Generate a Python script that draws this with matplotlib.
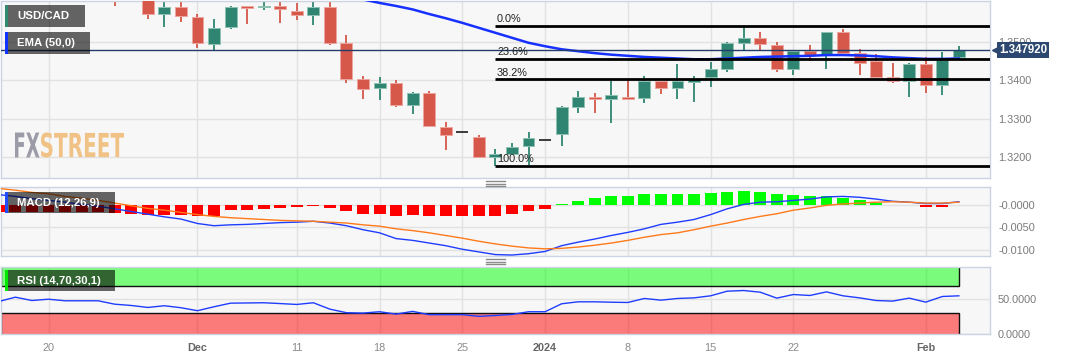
import numpy as np
import pandas as pd
import matplotlib
matplotlib.use('Agg')
import matplotlib.pyplot as plt
import matplotlib.transforms as mtransforms
from matplotlib.patches import Rectangle, PathPatch
from matplotlib.lines import Line2D
from matplotlib.textpath import TextPath
from matplotlib.font_manager import FontProperties

plt.rcParams['font.family'] = ['Liberation Sans', 'DejaVu Sans']

# daily USD/CAD, 15 Nov 2023 .. 5 Feb 2024 (weekdays)
dates = pd.bdate_range('2023-11-15', '2024-02-05')

opens = [1.3710, 1.3728, 1.3715, 1.3712, 1.3718, 1.3710, 1.3676, 1.3662, 1.3628, 1.3640,
         1.3573, 1.3592, 1.3566, 1.3495, 1.3538, 1.3593, 1.3591, 1.3594, 1.3581, 1.3570,
         1.3591, 1.3497, 1.3403, 1.3379, 1.3392, 1.3335, 1.3366, 1.3279, 1.3264, 1.3253,
         1.3201, 1.3208, 1.3229, 1.3244, 1.3259, 1.3330, 1.3356, 1.3352, 1.3357, 1.3353,
         1.3398, 1.3379, 1.3396, 1.3410, 1.3430, 1.3497, 1.3510, 1.3492, 1.3429, 1.3477,
         1.3468, 1.3525, 1.3472, 1.3450, 1.3408, 1.3398, 1.3442, 1.3389, 1.3462]
highs = [1.3745, 1.3755, 1.3730, 1.3728, 1.3740, 1.3720, 1.3690, 1.3670, 1.3660, 1.3650,
         1.3615, 1.3612, 1.3572, 1.3559, 1.3595, 1.3594, 1.3612, 1.3612, 1.3603, 1.3612,
         1.3607, 1.3518, 1.3411, 1.3408, 1.3401, 1.3370, 1.3373, 1.3292, 1.3264, 1.3257,
         1.3220, 1.3236, 1.3264, 1.3244, 1.3333, 1.3372, 1.3366, 1.3398, 1.3403, 1.3412,
         1.3398, 1.3442, 1.3411, 1.3447, 1.3499, 1.3540, 1.3525, 1.3501, 1.3478, 1.3492,
         1.3525, 1.3533, 1.3481, 1.3470, 1.3444, 1.3444, 1.3462, 1.3475, 1.3490]
lows = [1.3700, 1.3705, 1.3700, 1.3690, 1.3700, 1.3670, 1.3655, 1.3594, 1.3615, 1.3560,
        1.3540, 1.3552, 1.3485, 1.3479, 1.3533, 1.3547, 1.3583, 1.3549, 1.3557, 1.3544,
        1.3492, 1.3392, 1.3351, 1.3349, 1.3331, 1.3311, 1.3280, 1.3218, 1.3264, 1.3201,
        1.3177, 1.3206, 1.3179, 1.3244, 1.3229, 1.3316, 1.3316, 1.3288, 1.3352, 1.3340,
        1.3364, 1.3351, 1.3344, 1.3382, 1.3423, 1.3479, 1.3479, 1.3423, 1.3413, 1.3451,
        1.3429, 1.3472, 1.3413, 1.3410, 1.3394, 1.3357, 1.3366, 1.3362, 1.3462]
closes = [1.3728, 1.3715, 1.3712, 1.3718, 1.3710, 1.3676, 1.3662, 1.3628, 1.3640, 1.3573,
          1.3592, 1.3568, 1.3497, 1.3537, 1.3591, 1.3590, 1.3594, 1.3586, 1.3570, 1.3591,
          1.3497, 1.3403, 1.3377, 1.3392, 1.3335, 1.3366, 1.3281, 1.3258, 1.3264, 1.3201,
          1.3207, 1.3227, 1.3249, 1.3244, 1.3330, 1.3356, 1.3352, 1.3363, 1.3352, 1.3398,
          1.3379, 1.3397, 1.3404, 1.3430, 1.3497, 1.3510, 1.3494, 1.3430, 1.3477, 1.3466,
          1.3525, 1.3472, 1.3444, 1.3410, 1.3398, 1.3442, 1.3389, 1.3453, 1.34792]
ema50 = [1.3720, 1.3718, 1.3716, 1.3713, 1.3710, 1.3706, 1.3702, 1.3698, 1.3694, 1.3689,
         1.3684, 1.3678, 1.3671, 1.3665, 1.3660, 1.3655, 1.3650, 1.3646, 1.3642, 1.3636,
         1.3628, 1.3620, 1.3611, 1.3602, 1.3594, 1.3585, 1.3573, 1.3562, 1.3550, 1.3537,
         1.3524, 1.3511, 1.3498, 1.3489, 1.3481, 1.3476, 1.3471, 1.3467, 1.3464, 1.3461,
         1.3459, 1.3457, 1.3455, 1.3455, 1.3457, 1.3459, 1.3461, 1.3462, 1.3463, 1.3464,
         1.3466, 1.3466, 1.3465, 1.3463, 1.3460, 1.3458, 1.3456, 1.3456, 1.3457]

macd_line = [0.0024, 0.0020, 0.0015, 0.0011, 0.0007, 0.0002, -0.0002, -0.0008, -0.0014, -0.0020,
             -0.0026, -0.0031, -0.0041, -0.0046, -0.0044, -0.0043, -0.0041, -0.0039, -0.0038, -0.0036,
             -0.0040, -0.0046, -0.0055, -0.0062, -0.0075, -0.0079, -0.0085, -0.0091, -0.0099, -0.0105,
             -0.0111, -0.0112, -0.0109, -0.0104, -0.0091, -0.0083, -0.0076, -0.0068, -0.0061, -0.0053,
             -0.0043, -0.0038, -0.0032, -0.0021, -0.0008, 0.0002, 0.0007, 0.0008, 0.0011, 0.0014,
             0.0019, 0.0020, 0.0018, 0.0014, 0.0009, 0.0007, 0.0004, 0.0004, 0.0008]
signal_line = [0.0038, 0.0034, 0.0029, 0.0026, 0.0020, 0.0016, 0.0011, 0.0005, -0.0001, -0.0007,
               -0.0011, -0.0016, -0.0021, -0.0025, -0.0028, -0.0030, -0.0032, -0.0034, -0.0035, -0.0036,
               -0.0038, -0.0040, -0.0044, -0.0047, -0.0053, -0.0057, -0.0062, -0.0068, -0.0074, -0.0081,
               -0.0087, -0.0092, -0.0096, -0.0098, -0.0097, -0.0094, -0.0090, -0.0085, -0.0079, -0.0072,
               -0.0066, -0.0062, -0.0055, -0.0047, -0.0040, -0.0032, -0.0025, -0.0019, -0.0011, -0.0006,
               0.0000, 0.0003, 0.0005, 0.0007, 0.0008, 0.0007, 0.0005, 0.0005, 0.0007]
macd_hist = [-0.0016, -0.0015, -0.0015, -0.0015, -0.0014, -0.0014, -0.0014, -0.0017, -0.0019, -0.0021,
             -0.0021, -0.0021, -0.0025, -0.0023, -0.0011, -0.0010, -0.0008, -0.0006, -0.0003, -0.0002,
             -0.0005, -0.0013, -0.0019, -0.0020, -0.0023, -0.0022, -0.0025, -0.0025, -0.0025, -0.0025,
             -0.0023, -0.0019, -0.0013, -0.0008, 0.0002, 0.0010, 0.0016, 0.0020, 0.0021, 0.0025,
             0.0025, 0.0026, 0.0026, 0.0027, 0.0030, 0.0033, 0.0031, 0.0025, 0.0023, 0.0020,
             0.0021, 0.0017, 0.0011, 0.0005, 0.0001, 0.0001, -0.0004, -0.0003, 0.0001]
rsi14 = [47.1, 53.4, 48.5, 50.4, 48.1, 48.1, 48.1, 43.1, 41.2, 38.3,
         40.8, 37.9, 33.5, 39.3, 44.6, 44.9, 45.2, 44.0, 42.7, 45.2,
         35.8, 30.6, 30.0, 32.0, 28.5, 32.5, 27.7, 27.7, 27.7, 25.2,
         26.5, 28.0, 32.0, 32.0, 43.7, 46.6, 46.6, 46.0, 45.6, 51.5,
         49.0, 51.5, 52.4, 55.4, 62.2, 63.2, 60.7, 52.0, 57.3, 55.9,
         61.2, 55.4, 52.4, 48.5, 47.6, 52.0, 46.1, 54.4, 55.4]
rsi_low, rsi_high = 30, 70

fib_high = 1.3542
fib_low = 1.3177
fib_ratios = [0.0, 0.236, 0.382, 1.0]
fib_labels = ['0.0%', '23.6%', '38.2%', '100.0%']
fib_start = '2023-12-27'

tick_dates = ['2023-11-20', '2023-12-01', '2023-12-11', '2023-12-18', '2023-12-25',
              '2024-01-01', '2024-01-08', '2024-01-15', '2024-01-22', '2024-02-01']
tick_labels = ['20', 'Dec', '11', '18', '25', '2024', '8', '15', '22', 'Feb']
bold_ticks = ['Dec', '2024', 'Feb']

opens = np.array(opens); highs = np.array(highs); lows = np.array(lows); closes = np.array(closes)
macd_hist = np.array(macd_hist)
x = np.arange(len(dates))
tick_pos = [dates.get_loc(pd.Timestamp(d)) for d in tick_dates]
xlim = (0.1, 59.88)

W, H = 1067, 360
fig = plt.figure(figsize=(W / 100, H / 100), dpi=100, facecolor='white')
px = mtransforms.Affine2D().scale(1 / W, -1 / H).translate(0, 1) + fig.transFigure


def rect(x0, y0, x1, y1):
    return [x0 / W, 1 - y1 / H, (x1 - x0) / W, (y1 - y0) / H]


ax = fig.add_axes(rect(0.5, 0.5, 990, 178))
ax_m = fig.add_axes(rect(0.5, 187, 990, 256))
ax_r = fig.add_axes(rect(0.5, 266.5, 990, 333.5))

for a in (ax, ax_m, ax_r):
    a.set_facecolor('#f7f7f7')
    for s in a.spines.values():
        s.set_color('#ccd3e3')
        s.set_linewidth(1)
    a.set_xlim(*xlim)
    a.set_xticks(tick_pos)
    a.grid(True, color='#e2e2e2', lw=1)
    a.set_axisbelow(True)
    a.yaxis.tick_right()
    a.tick_params(length=0, labelsize=7.8, labelcolor='#7a7a7a', pad=5.8)
    a.tick_params(axis='x', labelbottom=False)

# ---- price panel
up_col, dn_col = '#2f8571', '#d5584b'
up = closes > opens
dn = closes < opens
flat = closes == opens
cols = np.where(up, up_col, dn_col)
edges = np.where(up, '#8fc2b4', '#eda69e')
ax.vlines(x[~flat], lows[~flat], highs[~flat], colors=cols[~flat], lw=1.3, zorder=2)
ax.bar(x[~flat], np.abs(closes - opens)[~flat], bottom=np.minimum(opens, closes)[~flat],
       width=0.72, color=cols[~flat], edgecolor=edges[~flat], lw=0.7, zorder=3)
ax.hlines(closes[flat], x[flat] - 0.36, x[flat] + 0.36, color='#1a1a1a', lw=1.2, zorder=3)

ax.plot(x, ema50, color='#1530ff', lw=1.8, zorder=4)

last_close = closes[-1]
ax.axhline(last_close, color='#223d6a', lw=1, zorder=4)

fx0 = dates.get_loc(pd.Timestamp(fib_start))
for r, lab in zip(fib_ratios, fib_labels):
    lvl = fib_high - r * (fib_high - fib_low)
    ax.hlines(lvl, fx0, xlim[1], color='black', lw=2, zorder=5)
    ax.text(fx0 + 0.1, lvl + 0.0004, lab, fontsize=7.8, color='#222222', va='bottom', ha='left', zorder=5)

ax.set_ylim(1.31452, 1.36083)
ax.set_yticks([1.32, 1.33, 1.34, 1.35])
ax.set_yticklabels(['%.4f' % v for v in [1.32, 1.33, 1.34, 1.35]])

trans = mtransforms.blended_transform_factory(ax.transAxes, ax.transData)
box_col = '#2c4870'
ax.plot([1.0074], [last_close], marker='<', ms=7, color=box_col, transform=trans, clip_on=False, zorder=6)
ax.text(1.0089, last_close, '%.6f' % last_close, transform=trans, color='white', fontweight='bold',
        fontsize=8.3, va='center', ha='left', clip_on=False, zorder=7,
        bbox=dict(boxstyle='square,pad=0.2', fc=box_col, ec='none'))

# ---- MACD panel
ax_m.bar(x, macd_hist, width=0.72, color=np.where(macd_hist >= 0, '#00ff00', '#ff0000'), zorder=3)
ax_m.plot(x, macd_line, color='#1f3dff', lw=1, zorder=4)
ax_m.plot(x, signal_line, color='#ff7a1a', lw=1, zorder=4)
ax_m.set_ylim(-0.01142, 0.00412)
ax_m.set_yticks([0, -0.005, -0.01])
ax_m.set_yticklabels(['-0.0000', '-0.0050', '-0.0100'])

# ---- RSI panel
zone_w = x[-1] - xlim[0]
ax_r.add_patch(Rectangle((xlim[0], rsi_high), zone_w, 50, fc=(0, 1, 0, 0.5), ec='#111111', lw=1, zorder=2))
ax_r.add_patch(Rectangle((xlim[0], -20), zone_w, rsi_low + 20, fc=(1, 0, 0, 0.5), ec='#111111', lw=1, zorder=2))
ax_r.plot(x, rsi14, color='#1f3dff', lw=1, zorder=4)
ax_r.set_ylim(0, 98.5)
ax_r.set_yticks([0, 50])
ax_r.set_yticklabels(['0.0000', '50.0000'])
ax_r.tick_params(axis='x', labelbottom=True, pad=6.8)
ax_r.set_xticklabels(tick_labels)
for t in ax_r.get_xticklabels():
    if t.get_text() in bold_ticks:
        t.set_fontweight('bold')
        t.set_color('#666666')
    else:
        t.set_color('#8a8a8a')


# ---- overlays
def label_box(x0, y0, x1, y1, color, text):
    fig.add_artist(Rectangle((x0, y0), x1 - x0, y1 - y0, transform=px, fc='black', alpha=0.6, ec='none', zorder=10))
    fig.add_artist(Rectangle((x0, y0), 3, y1 - y0, transform=px, fc=color, ec='none', zorder=11))
    fig.text((x0 + 12) / W, 1 - (y0 + y1) / 2 / H, text, color='white', fontweight='bold',
             fontsize=8.2, va='center', ha='left', zorder=12)


label_box(5, 5, 85, 27, '#2f8a72', 'USD/CAD')
label_box(5, 32, 90, 54, '#1233ff', 'EMA (50,0)')
label_box(5, 192, 115, 213, '#1f4cff', 'MACD (12,26,9)')
label_box(5, 270, 115, 291, '#00e600', 'RSI (14,70,30,1)')


def squeezed_text(s, x0, x1, y_top, y_bot, color):
    tp = TextPath((0, 0), s, size=10, prop=FontProperties(family='DejaVu Sans', weight='bold'))
    ext = tp.get_extents()
    tr = (mtransforms.Affine2D().translate(-ext.x0, -ext.y0)
          .scale((x1 - x0) / ext.width, -(y_bot - y_top) / ext.height)
          .translate(x0, y_bot) + px)
    fig.add_artist(PathPatch(tp, transform=tr, fc=color, ec='none', zorder=1))


squeezed_text('FX', 15, 39.5, 132.5, 157.5, '#9b9ca7')
squeezed_text('STREET', 41, 124, 132.5, 157.5, '#f1c285')

for yy in (181, 183.5, 186, 259, 261.5, 264):
    fig.add_artist(Line2D([486, 505], [yy, yy], transform=px, color='#8a8a8a', lw=1))

fig.savefig('out.png', dpi=100, facecolor='white')
